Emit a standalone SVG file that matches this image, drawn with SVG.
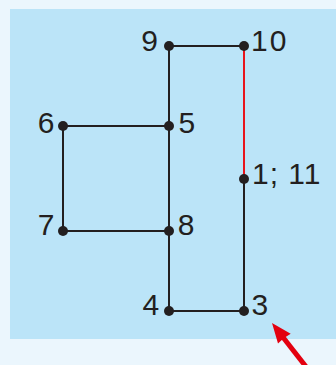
<svg xmlns="http://www.w3.org/2000/svg" width="336" height="365" viewBox="0 0 336 365">
<style>
.lbl{font-family:"Liberation Sans",Arial,sans-serif;font-size:30px;fill:#231f20}
.ln{stroke:#231f20;stroke-width:2;fill:none}
.red{stroke:#e8141b;stroke-width:2;fill:none}
.dot{fill:#231f20}
</style>
<rect x="0" y="0" width="336" height="365" fill="#ebf6fd"/>
<rect x="10" y="9" width="326" height="330" fill="#bbe4f8"/>
<g id="connectors">
<line class="ln" x1="169" y1="46" x2="244" y2="46"/>
<line class="ln" x1="169" y1="46" x2="169" y2="126"/>
<line class="ln" x1="169" y1="126" x2="169" y2="231"/>
<line class="ln" x1="169" y1="231" x2="169" y2="311"/>
<line class="ln" x1="63" y1="126" x2="169" y2="126"/>
<line class="ln" x1="63" y1="126" x2="63" y2="231"/>
<line class="ln" x1="63" y1="231" x2="169" y2="231"/>
<line class="ln" x1="169" y1="311" x2="244" y2="311"/>
<line class="ln" x1="244" y1="311" x2="244" y2="179"/>
<line class="red" x1="244" y1="179" x2="244" y2="46"/>
</g>
<g id="n9"><circle class="dot" cx="169" cy="46" r="5"/><text class="lbl" x="158" y="50.5" text-anchor="end">9</text></g>
<g id="n10"><circle class="dot" cx="244" cy="46" r="5"/><text class="lbl" x="251" y="50.5" letter-spacing="2">10</text></g>
<g id="n6"><circle class="dot" cx="63" cy="126" r="5"/><text class="lbl" x="54.5" y="132.5" text-anchor="end">6</text></g>
<g id="n5"><circle class="dot" cx="169" cy="126" r="5"/><text class="lbl" x="178.5" y="133">5</text></g>
<g id="n1"><circle class="dot" cx="244" cy="179" r="5"/><text class="lbl" x="252" y="183.5" letter-spacing="1">1; 11</text></g>
<g id="n7"><circle class="dot" cx="63" cy="231" r="5"/><text class="lbl" x="54.5" y="235" text-anchor="end">7</text></g>
<g id="n8"><circle class="dot" cx="169" cy="231" r="5"/><text class="lbl" x="177.8" y="235">8</text></g>
<g id="n4"><circle class="dot" cx="169" cy="311" r="5"/><text class="lbl" x="159.3" y="314.5" text-anchor="end">4</text></g>
<g id="n3"><circle class="dot" cx="244" cy="311" r="5"/><text class="lbl" x="251.5" y="314.5">3</text></g>
<g id="pointer">
<line x1="307" y1="368" x2="282" y2="336" stroke="#e3000f" stroke-width="5"/>
<polygon points="272,323 278,343.6 284,338 290.7,333.8" fill="#e3000f"/>
</g>
</svg>
